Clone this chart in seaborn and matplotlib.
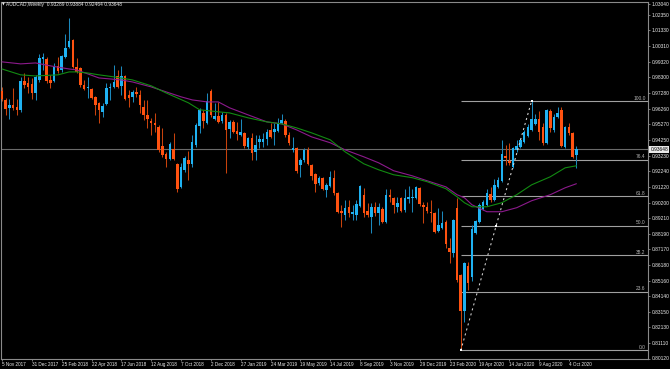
import numpy as np
import pandas as pd
import matplotlib
matplotlib.use("Agg")
import matplotlib.pyplot as plt
import seaborn as sns
from matplotlib.transforms import blended_transform_factory

# ---------------- data (weekly AUDCAD candles) ----------------
opens = [
    0.9742, 0.9684, 0.9633, 0.9652, 0.9639, 0.9620, 0.9807, 0.9794, 0.9787, 0.9729,
    0.9813, 0.9949, 0.9949, 0.9813, 0.9807, 0.9904, 0.9878, 0.9962, 1.0026, 1.0072,
    0.9897, 0.9891, 0.9781, 0.9762, 0.9755, 0.9704, 0.9665, 0.9607, 0.9658, 0.9762,
    0.9768, 0.9839, 0.9775, 0.9839, 0.9717, 0.9704, 0.9736, 0.9717, 0.9639, 0.9587,
    0.9549, 0.9536, 0.9510, 0.9387, 0.9335, 0.9303, 0.9368, 0.9271, 0.9122, 0.9232,
    0.9297, 0.9271, 0.9394, 0.9516, 0.9600, 0.9536, 0.9742, 0.9562, 0.9581, 0.9549,
    0.9587, 0.9497, 0.9542, 0.9484, 0.9458, 0.9471, 0.9381, 0.9439, 0.9348, 0.9413,
    0.9413, 0.9432, 0.9490, 0.9478, 0.9484, 0.9536, 0.9549, 0.9458, 0.9361, 0.9374,
    0.9264, 0.9297, 0.9361, 0.9264, 0.9206, 0.9148, 0.9181, 0.9103, 0.9129, 0.9181,
    0.9084, 0.8968, 0.8942, 0.8993, 0.8948, 0.8942, 0.9000, 0.9071, 0.8968, 0.8929,
    0.8993, 0.8955, 0.8980, 0.8897, 0.9071, 0.9051, 0.8993, 0.9051, 0.8974, 0.9045,
    0.9051, 0.9051, 0.9116, 0.9006, 0.8993, 0.8961, 0.8955, 0.8838, 0.8858, 0.8897,
    0.8729, 0.8697, 0.8987, 0.8554, 0.8316, 0.8613, 0.8542, 0.8826, 0.8897, 0.8980,
    0.9006, 0.9077, 0.9039, 0.9122, 0.9161, 0.9323, 0.9290, 0.9252, 0.9361, 0.9381,
    0.9413, 0.9452, 0.9490, 0.9529, 0.9562, 0.9510, 0.9407, 0.9613, 0.9490, 0.9575,
    0.9620, 0.9381, 0.9510, 0.9471, 0.93289]

highs = [
    0.9768, 0.9697, 0.9691, 0.9762, 0.9691, 0.9833, 0.9858, 0.9833, 0.9826, 0.9846,
    0.9981, 0.9988, 0.9962, 0.9846, 0.9923, 0.9962, 0.9975, 1.0110, 1.0214, 1.0078,
    0.9955, 0.9897, 0.9813, 0.9833, 0.9762, 0.9710, 0.9671, 0.9665, 0.9794, 0.9794,
    0.9910, 0.9878, 0.9904, 0.9846, 0.9749, 0.9749, 0.9768, 0.9749, 0.9684, 0.9684,
    0.9568, 0.9600, 0.9523, 0.9503, 0.9348, 0.9413, 0.9471, 0.9277, 0.9277, 0.9323,
    0.9355, 0.9458, 0.9536, 0.9633, 0.9620, 0.9729, 0.9755, 0.9665, 0.9671, 0.9607,
    0.9600, 0.9555, 0.9555, 0.9542, 0.9562, 0.9478, 0.9445, 0.9471, 0.9458, 0.9458,
    0.9471, 0.9497, 0.9536, 0.9536, 0.9568, 0.9594, 0.9562, 0.9478, 0.9445, 0.9381,
    0.9310, 0.9374, 0.9381, 0.9270, 0.9213, 0.9193, 0.9184, 0.9148, 0.9226, 0.9232,
    0.9087, 0.9006, 0.9039, 0.9039, 0.9006, 0.9039, 0.9135, 0.9116, 0.9019, 0.9019,
    0.9026, 0.9019, 0.8993, 0.9110, 0.9110, 0.9058, 0.9058, 0.9058, 0.9110, 0.9129,
    0.9110, 0.9129, 0.9122, 0.9026, 0.9026, 0.9039, 0.8961, 0.8987, 0.8968, 0.8909,
    0.8793, 0.8916, 0.9051, 0.8561, 0.8638, 0.8638, 0.8877, 0.8909, 0.9019, 0.9039,
    0.9110, 0.9122, 0.9174, 0.9187, 0.9426, 0.9394, 0.9407, 0.9381, 0.9426, 0.9439,
    0.9490, 0.9529, 0.9678, 0.9594, 0.9613, 0.9536, 0.9626, 0.9626, 0.9594, 0.9639,
    0.9639, 0.9516, 0.9536, 0.9478, 0.93884]

lows = [
    0.9678, 0.9587, 0.9562, 0.9620, 0.9587, 0.9607, 0.9762, 0.9729, 0.9691, 0.9684,
    0.9800, 0.9878, 0.9794, 0.9762, 0.9800, 0.9858, 0.9865, 0.9955, 1.0020, 0.9891,
    0.9858, 0.9768, 0.9749, 0.9697, 0.9691, 0.9587, 0.9536, 0.9575, 0.9652, 0.9684,
    0.9762, 0.9762, 0.9717, 0.9684, 0.9639, 0.9671, 0.9704, 0.9600, 0.9555, 0.9503,
    0.9458, 0.9478, 0.9348, 0.9316, 0.9252, 0.9297, 0.9297, 0.9090, 0.9116, 0.9219,
    0.9168, 0.9252, 0.9381, 0.9471, 0.9503, 0.9530, 0.9575, 0.9555, 0.9536, 0.9536,
    0.9213, 0.9439, 0.9471, 0.9426, 0.9452, 0.9374, 0.9368, 0.9297, 0.9297, 0.9374,
    0.9381, 0.9394, 0.9439, 0.9394, 0.9478, 0.9529, 0.9445, 0.9394, 0.9348, 0.9213,
    0.9187, 0.9284, 0.9264, 0.9168, 0.9090, 0.9135, 0.9103, 0.9058, 0.9122, 0.9071,
    0.8955, 0.8864, 0.8909, 0.8929, 0.8909, 0.8909, 0.8993, 0.8929, 0.8929, 0.8826,
    0.8935, 0.8877, 0.8890, 0.8890, 0.9026, 0.8955, 0.8961, 0.8961, 0.8961, 0.9019,
    0.8961, 0.9045, 0.9000, 0.8890, 0.8955, 0.8897, 0.8826, 0.8832, 0.8851, 0.8729,
    0.8632, 0.8671, 0.8509, 0.8064, 0.8245, 0.8458, 0.8516, 0.8819, 0.8890, 0.8974,
    0.9000, 0.9026, 0.9032, 0.9116, 0.9155, 0.9264, 0.9264, 0.9245, 0.9348, 0.9374,
    0.9407, 0.9445, 0.9484, 0.9523, 0.9426, 0.9394, 0.9400, 0.9478, 0.9478, 0.9568,
    0.9381, 0.9374, 0.9458, 0.9310, 0.92464]

closes = [
    0.9691, 0.9626, 0.9652, 0.9633, 0.9620, 0.9807, 0.9781, 0.9768, 0.9729, 0.9833,
    0.9955, 0.9962, 0.9807, 0.9794, 0.9897, 0.9871, 0.9968, 1.0020, 1.0065, 0.9897,
    0.9865, 0.9781, 0.9755, 0.9768, 0.9697, 0.9652, 0.9620, 0.9645, 0.9762, 0.9768,
    0.9800, 0.9768, 0.9839, 0.9691, 0.9697, 0.9736, 0.9723, 0.9652, 0.9587, 0.9562,
    0.9536, 0.9523, 0.9361, 0.9329, 0.9303, 0.9400, 0.9303, 0.9110, 0.9252, 0.9310,
    0.9271, 0.9413, 0.9523, 0.9620, 0.9549, 0.9678, 0.9587, 0.9581, 0.9542, 0.9587,
    0.9490, 0.9542, 0.9478, 0.9465, 0.9478, 0.9387, 0.9439, 0.9342, 0.9394, 0.9432,
    0.9432, 0.9478, 0.9445, 0.9497, 0.9536, 0.9555, 0.9458, 0.9407, 0.9374, 0.9226,
    0.9297, 0.9361, 0.9271, 0.9193, 0.9142, 0.9181, 0.9110, 0.9135, 0.9187, 0.9084,
    0.8961, 0.8955, 0.8987, 0.8955, 0.8961, 0.9013, 0.9129, 0.8955, 0.8942, 0.8993,
    0.8955, 0.8993, 0.8897, 0.9071, 0.9058, 0.9006, 0.9019, 0.8968, 0.9051, 0.9058,
    0.9058, 0.9122, 0.9013, 0.8993, 0.8968, 0.8955, 0.8832, 0.8877, 0.8890, 0.8755,
    0.8703, 0.8909, 0.8522, 0.8316, 0.8632, 0.8503, 0.8851, 0.8903, 0.9006, 0.9026,
    0.9084, 0.9039, 0.9135, 0.9168, 0.9335, 0.9310, 0.9277, 0.9374, 0.9387, 0.9426,
    0.9478, 0.9510, 0.9562, 0.9562, 0.9478, 0.9407, 0.9620, 0.9503, 0.9575, 0.9600,
    0.9387, 0.9510, 0.9471, 0.9316, 0.93648]

# moving averages (bar index, price)
ma_fast_idx = [0, 5, 9, 15, 18, 20, 23, 26, 30, 35, 40, 44, 50, 53, 58, 61, 66, 71, 75, 79,
               83, 88, 92, 97, 101, 105, 110, 114, 119, 122, 124, 126, 130, 134, 138, 142,
               147, 151, 154]
ma_fast = [0.9884, 0.9846, 0.9839, 0.9846, 0.9865, 0.9865, 0.9858, 0.9846, 0.9833, 0.9813,
           0.9775, 0.9729, 0.9665, 0.9620, 0.9607, 0.9600, 0.9568, 0.9542, 0.9529, 0.9503,
           0.9471, 0.9426, 0.9348, 0.9271, 0.9232, 0.9200, 0.9181, 0.9155, 0.9110, 0.9058,
           0.9019, 0.8993, 0.8993, 0.9019, 0.9071, 0.9135, 0.9187, 0.9245, 0.9258]
ma_slow_idx = [0, 5, 9, 13, 18, 20, 26, 32, 35, 40, 44, 48, 51, 55, 58, 61, 66, 71, 75, 79,
               83, 88, 92, 97, 101, 105, 110, 114, 119, 122, 124, 126, 130, 134, 138, 142,
               147, 151, 154]
ma_slow = [0.9930, 0.9917, 0.9923, 0.9904, 0.9884, 0.9878, 0.9826, 0.9813, 0.9800, 0.9768,
           0.9736, 0.9704, 0.9684, 0.9671, 0.9671, 0.9633, 0.9587, 0.9542, 0.9529, 0.9490,
           0.9445, 0.9407, 0.9361, 0.9316, 0.9277, 0.9226, 0.9193, 0.9161, 0.9122, 0.9071,
           0.9051, 0.9006, 0.8961, 0.8961, 0.8987, 0.9032, 0.9071, 0.9116, 0.9142]

date_labels = ["5 Nov 2017", "31 Dec 2017", "25 Feb 2018", "22 Apr 2018", "17 Jun 2018",
               "12 Aug 2018", "7 Oct 2018", "2 Dec 2018", "27 Jan 2019", "24 Mar 2019",
               "19 May 2019", "14 Jul 2019", "8 Sep 2019", "3 Nov 2019", "29 Dec 2019",
               "23 Feb 2020", "19 Apr 2020", "14 Jun 2020", "9 Aug 2020", "4 Oct 2020"]
date_tick_idx = [0, 8, 16, 24, 32, 40, 48, 56, 64, 72, 80, 88, 96, 104, 112, 120, 128, 136, 144, 152]

price_ticks = [0.80120, 0.81110, 0.82130, 0.83150, 0.84140, 0.85160, 0.86180, 0.87170,
               0.88190, 0.89210, 0.90200, 0.91220, 0.92240, 0.93230, 0.94250, 0.95270,
               0.96260, 0.97280, 0.98300, 0.99320, 1.00310, 1.01330, 1.02350, 1.03040]

fib_levels = [0.0, 23.6, 38.2, 50.0, 61.8, 76.4, 100.0]
fib_low_bar = 123
fib_high_bar = 142

title_text = "AUDCAD,Weekly  0.93289 0.93884 0.92464 0.93648"

# ---------------- style ----------------
sns.set_theme(style="dark")
plt.rcParams['font.family'] = ['Liberation Sans', 'DejaVu Sans']

BULL = '#1fb2f2'
BEAR = '#ff5210'
BULL_WICK = '#1b88bc'
BEAR_WICK = '#c8420c'
FRAME = '#8a8a8a'
TXT = '#ececec'
FS = 3.5
FSX = 3.3

W, H = 670, 369
fig = plt.figure(figsize=(W / 100, H / 100), dpi=100, facecolor='black')
ax = fig.add_axes([1 / W, 1 - 358.5 / H, 647 / W, (358.5 - 1.7) / H])
ax.set_facecolor('black')
ax.grid(False)

df = pd.DataFrame({'open': opens, 'high': highs, 'low': lows, 'close': closes})
df['bar'] = np.arange(len(df))
up = df['close'] >= df['open']

# wicks
ax.vlines(df['bar'], df['low'], df['high'],
          colors=np.where(up, BULL_WICK, BEAR_WICK), linewidth=0.75, zorder=2)
# bodies
body_bottom = np.minimum(df['open'], df['close'])
body_height = np.maximum((df['close'] - df['open']).abs(), 0.0006)
ax.bar(df['bar'], body_height, bottom=body_bottom, width=0.68,
       color=np.where(up, BULL, BEAR), linewidth=0, zorder=3)

# moving averages
sns.lineplot(x=ma_slow_idx, y=ma_slow, ax=ax, color='#8c1a8c', linewidth=0.8, zorder=4)
sns.lineplot(x=ma_fast_idx, y=ma_fast, ax=ax, color='#128a12', linewidth=0.8, zorder=4)

x_left, x_right = -0.27, 173.2
ax.set_xlim(x_left, x_right)
ax.set_ylim(0.8012, 1.0319)

# bid line
ax.axhline(closes[-1], color='#6a6a6a', linewidth=0.8, zorder=1)

# fibonacci retracement
f_low = lows[fib_low_bar]
f_high = highs[fib_high_bar]
for lvl in fib_levels:
    price = f_low + (f_high - f_low) * lvl / 100.0
    ax.hlines(price, fib_low_bar, x_right, color='#a0a0a0', linewidth=0.8, zorder=1)
    ax.text(x_right - 0.6, price + 0.0002, f"{lvl:.1f}", color='#b4b4b4', fontsize=FS,
            ha='right', va='bottom', zorder=5)
ax.plot([fib_low_bar, fib_high_bar], [f_low, f_high], color='#d8d8d8',
        linestyle=(0, (2.0, 3.0)), linewidth=0.75, zorder=5)
ax.plot([fib_low_bar, (fib_low_bar + fib_high_bar) / 2, fib_high_bar],
        [f_low, (f_low + f_high) / 2, f_high], linestyle='none', marker='s',
        markersize=1.8, color='white', markeredgewidth=0, zorder=6)

# frame
for s in ax.spines.values():
    s.set_visible(True)
    s.set_color(FRAME)
    s.set_linewidth(0.8)

# axes ticks
ax.yaxis.tick_right()
ax.set_yticks(price_ticks)
ax.set_yticklabels([f"{v:.5f}" for v in price_ticks])
ax.set_xticks(date_tick_idx)
ax.set_xticklabels(date_labels, ha='left')
ax.tick_params(axis='y', which='both', direction='out', length=1.6, width=0.6,
               color=FRAME, labelsize=FS, labelcolor=TXT, pad=1.0, right=True, left=False)
ax.tick_params(axis='x', which='both', direction='out', length=1.6, width=0.6,
               color=FRAME, labelsize=FSX, labelcolor=TXT, pad=0.6, bottom=True)
for lab in ax.get_xticklabels():
    lab.set_horizontalalignment('left')
ax.set_xlabel('')
ax.set_ylabel('')

# current price label on the axis
trans = blended_transform_factory(ax.transAxes, ax.transData)
ax.text(1.0035, closes[-1], f"{closes[-1]:.5f}", transform=trans, fontsize=FS,
        color='black', ha='left', va='center', clip_on=False, zorder=10,
        bbox=dict(boxstyle='square,pad=0.18', fc='#e8e8e8', ec='none'))

# title
fig.text(2.2 / W, 1 - 4.6 / H, "\u25bc", fontsize=2.6, color=TXT, va='center', ha='left',
         family=['DejaVu Sans'])
fig.text(6 / W, 1 - 4.6 / H, title_text, fontsize=FS, color=TXT, va='center', ha='left')

fig.savefig('out.png', dpi=100, facecolor='black')
